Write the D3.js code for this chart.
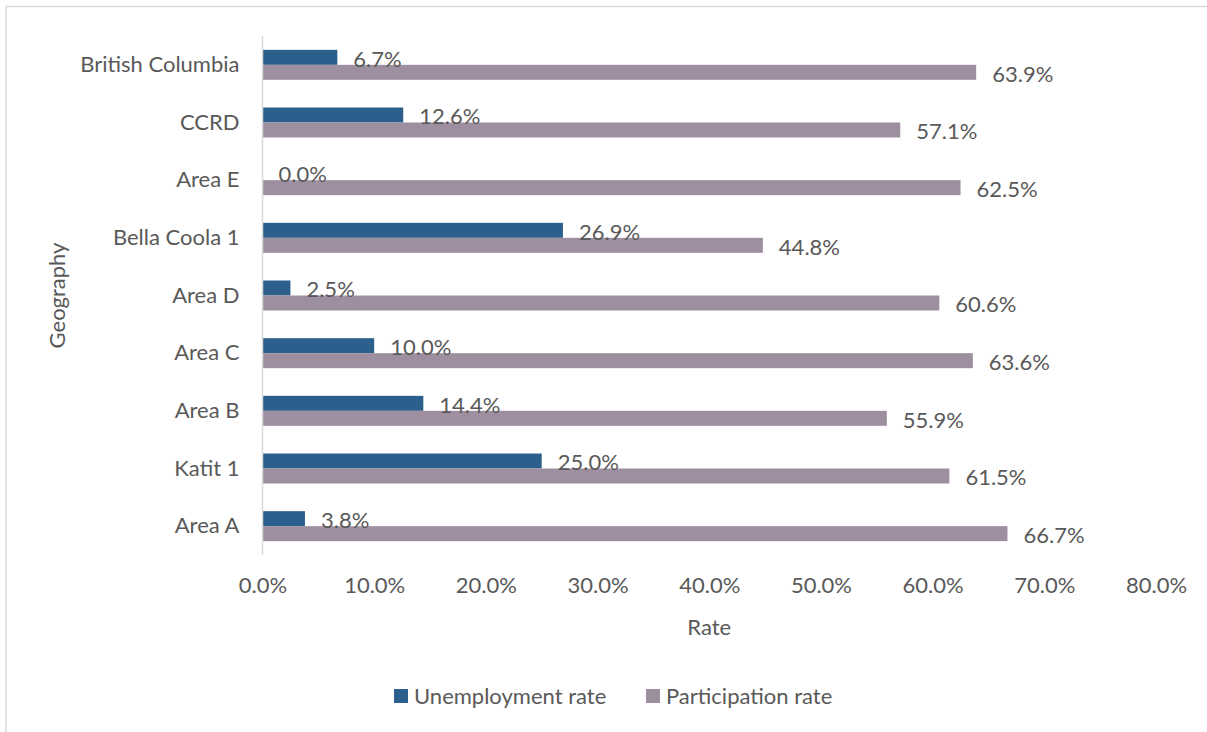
<!DOCTYPE html>
<html>
<head>
<meta charset="utf-8">
<script src="https://cdn.jsdelivr.net/npm/d3@7"></script>
<style>
  html, body { margin: 0; padding: 0; background: #ffffff; }
  svg { display: block; }
  text { font-family: Lato, "Open Sans", sans-serif; fill: #595959; }
</style>
</head>
<body>
<svg id="chart" width="1207" height="732"></svg>
<script>
const categories = ["British Columbia", "CCRD", "Area E", "Bella Coola 1", "Area D", "Area C", "Area B", "Katit 1", "Area A"];
const seriesNames = ["Unemployment rate", "Participation rate"];
const unemploymentRate = [6.7, 12.6, 0.0, 26.9, 2.5, 10.0, 14.4, 25.0, 3.8];
const participationRate = [63.9, 57.1, 62.5, 44.8, 60.6, 63.6, 55.9, 61.5, 66.7];
const xTicks = [0, 10, 20, 30, 40, 50, 60, 70, 80];
const colors = ["#2C5F8C", "#9E8FA0"];

const svg = d3.select("#chart");
const FS = 22;

// chart border (top and left visible)
svg.append("rect")
  .attr("x", 6).attr("y", 6.5)
  .attr("width", 1260).attr("height", 800)
  .attr("fill", "none").attr("stroke", "#d9d9d9").attr("stroke-width", 1.5);

const x = d3.scaleLinear().domain([0, 80]).range([262.5, 1156]);
const y = d3.scaleBand().domain(categories).range([36, 555]).paddingInner(0.48).paddingOuter(0.24);
const ySub = d3.scaleBand().domain(seriesNames).range([0, y.bandwidth()]);

const data = categories.map((c, i) => ({ cat: c, vals: [unemploymentRate[i], participationRate[i]] }));

// bars
const groups = svg.append("g").selectAll("g").data(data).join("g")
  .attr("transform", d => `translate(0,${y(d.cat)})`);

groups.selectAll("rect").data(d => d.vals.map((v, k) => ({ v, k })))
  .join("rect")
  .attr("x", x(0))
  .attr("y", d => ySub(seriesNames[d.k]))
  .attr("width", d => x(d.v) - x(0))
  .attr("height", ySub.bandwidth())
  .attr("fill", d => colors[d.k]);

groups.selectAll("text.lbl").data(d => d.vals.map((v, k) => ({ v, k })))
  .join("text")
  .attr("class", "lbl")
  .attr("x", d => x(d.v) + 16)
  .attr("y", d => ySub(seriesNames[d.k]) + ySub.bandwidth() / 2 + 1.5)
  .attr("dy", "0.35em")
  .attr("font-size", FS)
  .text(d => d.v.toFixed(1) + "%");

// y axis line
svg.append("line")
  .attr("x1", x(0)).attr("x2", x(0))
  .attr("y1", 36).attr("y2", 555)
  .attr("stroke", "#d9d9d9").attr("stroke-width", 1.5);

// y category labels
const yAxis = d3.axisLeft(y).tickSize(0).tickPadding(23);
const yg = svg.append("g").attr("transform", `translate(${x(0)},0)`).call(yAxis);
yg.select(".domain").remove();
yg.selectAll("text").attr("font-size", FS).attr("fill", "#595959")
  .attr("font-family", "Lato, 'Open Sans', sans-serif");

// x axis labels
const xAxis = d3.axisBottom(x).tickValues(xTicks).tickSize(0).tickPadding(0)
  .tickFormat(d => d.toFixed(1) + "%");
const xg = svg.append("g").attr("transform", `translate(0,577)`).call(xAxis);
xg.select(".domain").remove();
xg.selectAll("text").attr("font-size", FS).attr("fill", "#595959")
  .attr("font-family", "Lato, 'Open Sans', sans-serif");

// axis titles
svg.append("text").attr("x", (x(0) + x(80)) / 2).attr("y", 627).attr("dy", "0.35em")
  .attr("text-anchor", "middle").attr("font-size", FS).text("Rate");
svg.append("text").attr("transform", `translate(57,295.5) rotate(-90)`).attr("dy", "0.35em")
  .attr("text-anchor", "middle").attr("font-size", FS).text("Geography");

// legend
const legendX = [394, 646];
const lg = svg.append("g").selectAll("g").data(seriesNames).join("g")
  .attr("transform", (d, i) => `translate(${legendX[i]},689)`);
lg.append("rect").attr("width", 14).attr("height", 14).attr("fill", (d, i) => colors[i]);
lg.append("text").attr("x", 20).attr("y", 7.5).attr("dy", "0.35em")
  .attr("font-size", FS).text(d => d);
</script>
</body>
</html>
